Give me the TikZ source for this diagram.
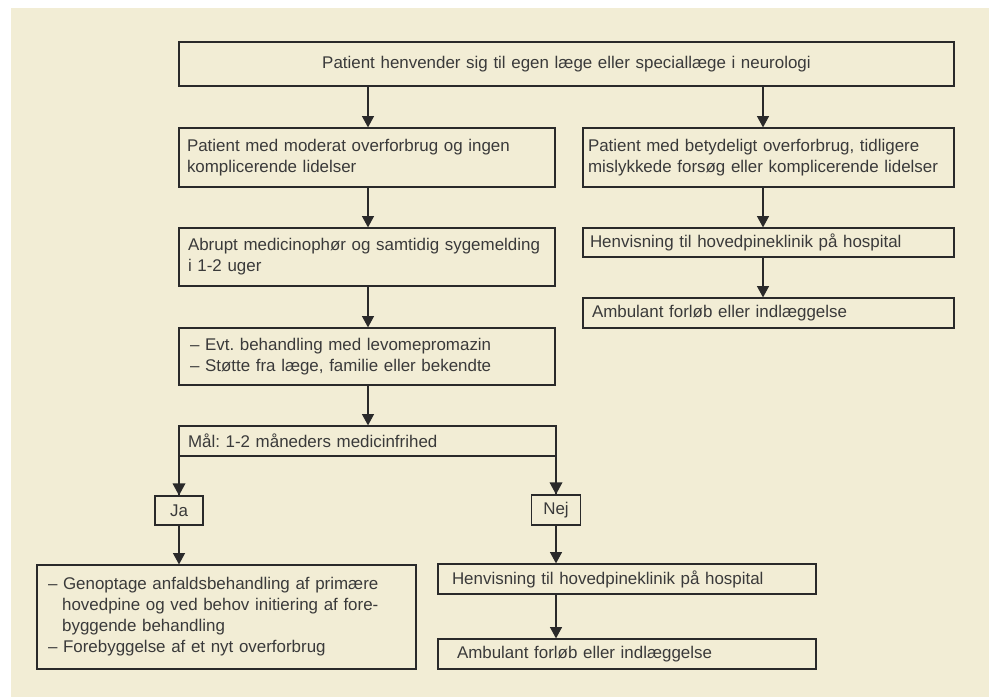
\documentclass[tikz,border=0pt]{standalone}
\usepackage{fontspec}
\setmainfont{Liberation Sans}
\usetikzlibrary{arrows.meta}
\definecolor{panel}{HTML}{F2EDD5}
\definecolor{ink}{HTML}{2A2A2A}
\definecolor{txt}{HTML}{3A3A3A}
\frenchspacing
\begin{document}
\begin{tikzpicture}[x=0.75pt,y=-0.75pt,
  box/.style={draw=ink, line width=0.9pt, fill=panel, inner xsep=0pt, inner ysep=0pt,
    align=left, text=txt, font=\fontsize{12.7pt}{15.75pt}\selectfont},
  conn/.style={draw=ink, line width=0.9pt, -{Triangle[width=9pt,length=8.5pt]}},
  plain/.style={draw=ink, line width=0.9pt},
  head/.style={fill=ink}]
\useasboundingbox (0,0) rectangle (989,697);
\fill[white] (0,0) rectangle (989,697);
\fill[panel] (11,8) rectangle (989,697);
% nodes
\node[box, align=center, minimum width=581.25pt, minimum height=33pt, text width=560pt] (top) at (566.5,64)
  {Patient henvender sig til egen læge eller speciallæge i neurologi};
\node[box, minimum width=282pt, minimum height=44.25pt, text width=270pt] (L1) at (367,157.5)
  {Patient med moderat overforbrug og ingen\\komplicerende lidelser};
\node[box, minimum width=282pt, minimum height=43.5pt, text width=268.5pt] (L2) at (367,257)
  {Abrupt medicinophør og samtidig sygemelding\\i 1-2 uger};
\node[box, minimum width=282pt, minimum height=42.75pt, text width=265.5pt] (L3) at (367,356.5)
  {– Evt. behandling med levomepromazin\\– Støtte fra læge, familie eller bekendte};
\node[box, minimum width=282.75pt, minimum height=22.5pt, text width=269.25pt] (mal) at (367.5,441)
  {Mål: 1-2 måneders medicinfrihed};
\node[box, minimum width=278.25pt, minimum height=44.25pt, text width=270.75pt] (R1) at (768.5,157.5)
  {Patient med betydeligt overforbrug, tidligere\\mislykkede forsøg eller komplicerende lidelser};
\node[box, minimum width=278.25pt, minimum height=21.75pt, text width=267.75pt] (R2) at (768.5,242.5)
  {Henvisning til hovedpineklinik på hospital};
\node[box, minimum width=278.25pt, minimum height=22.5pt, text width=264.75pt] (R3) at (768.5,313)
  {Ambulant forløb eller indlæggelse};
\node[box, align=center, minimum width=36pt, minimum height=21.75pt, text width=30pt] (ja) at (179,510.5) {Ja};
\node[box, align=center, minimum width=36.75pt, minimum height=22.5pt, text width=30pt] (nej) at (556,510) {Nej};
\node[box, minimum width=284.25pt, minimum height=78pt, text width=267.75pt] (gen) at (226.5,617)
  {– Genoptage anfaldsbehandling af primære\\\hspace*{10.6pt}hovedpine og ved behov initiering af fore-\\\hspace*{10.6pt}byggende behandling\\– Forebyggelse af et nyt overforbrug};
\node[box, minimum width=283.5pt, minimum height=22.5pt, text width=262.5pt] (hb) at (627,579)
  {Henvisning til hovedpineklinik på hospital};
\node[box, minimum width=283.5pt, minimum height=22.5pt, text width=255pt] (ab) at (627,654)
  {Ambulant forløb eller indlæggelse};
% connector columns
\coordinate (cL) at (368,0);
\coordinate (cR) at (763,0);
\coordinate (cJ) at (179,0);
\coordinate (cN) at (556,0);
\draw[conn] (top.south -| cL) -- (L1.north -| cL);
\draw[conn] (top.south -| cR) -- (R1.north -| cR);
\draw[conn] (L1.south -| cL) -- (L2.north -| cL);
\draw[conn] (L2.south -| cL) -- (L3.north -| cL);
\draw[conn] (L3.south -| cL) -- (mal.north -| cL);
\draw[conn] (R1.south -| cR) -- (R2.north -| cR);
\draw[conn] (R2.south -| cR) -- (R3.north -| cR);
% Mål to Ja / Nej
\draw[plain] (mal.south -| cJ) -- (ja.north -| cJ);
\fill[head] (ja.north -| cJ) -- ++(-6.5,-12) -- ++(13,0) -- cycle;
\draw[plain] (mal.south -| cN) -- (nej.north -| cN);
\fill[head] (nej.north -| cN) -- ++(-6.5,-12) -- ++(13,0) -- cycle;
\draw[conn] (ja.south -| cJ) -- (gen.north -| cJ);
\draw[conn] (nej.south -| cN) -- (hb.north -| cN);
\draw[conn] (hb.south -| cN) -- (ab.north -| cN);
\end{tikzpicture}
\end{document}
